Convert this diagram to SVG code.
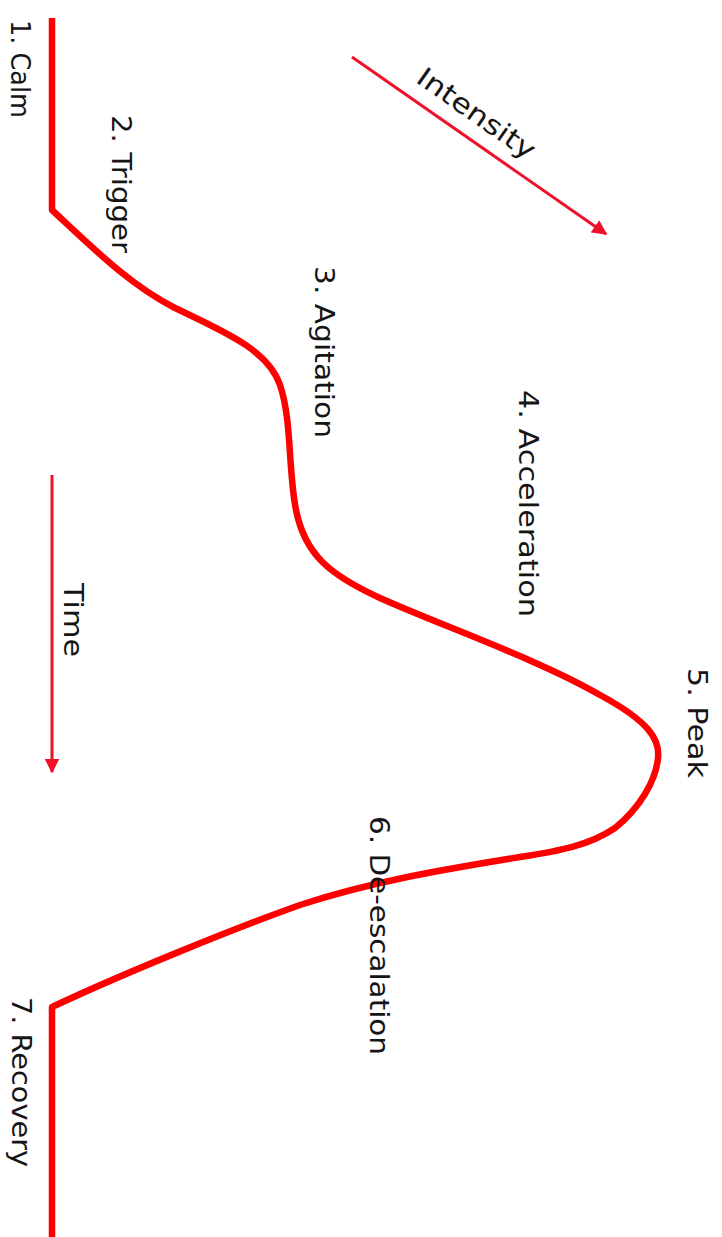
<svg xmlns="http://www.w3.org/2000/svg" width="722" height="1237" viewBox="0 0 722 1237">
<style>
.lbl{font-family:"DejaVu Sans","Liberation Sans",sans-serif;font-size:27px;fill:#151515}
.curve{fill:none;stroke:#ff0000;stroke-width:6.5;stroke-linejoin:round}
.axis{fill:none;stroke:#f0102a;stroke-width:3}
</style>
<defs>
<marker id="ah" viewBox="0 0 10 10" refX="9" refY="5" markerWidth="5" markerHeight="5" orient="auto" markerUnits="strokeWidth">
<path d="M0,0 L10,5 L0,10 z" fill="#f0102a"/>
</marker>
</defs>
<rect width="722" height="1237" fill="#ffffff"/>
<g id="connectors">
<path id="curve" class="curve" d="M52,18 L52,210 C95,250 130,285 175,308 C225,332 268,350 280,385 C292,420 288,470 296,510 C305,555 330,575 380,598 C440,625 540,660 600,695 C650,722 660,740 658,758 C656,780 640,808 615,828 C590,845 560,851 520,857 C440,870 370,882 300,905 C230,930 120,975 52,1007 L52,1237"/>
<line id="intensity-arrow" class="axis" x1="352" y1="57" x2="606" y2="234" marker-end="url(#ah)"/>
<line id="time-arrow" class="axis" x1="52" y1="475" x2="52" y2="772" marker-end="url(#ah)"/>
</g>
<g id="n1"><text class="lbl" transform="translate(11,20) rotate(90)" textLength="98" lengthAdjust="spacingAndGlyphs">1. Calm</text></g>
<g id="n2"><text class="lbl" transform="translate(112,115) rotate(90)" textLength="138" lengthAdjust="spacingAndGlyphs">2. Trigger</text></g>
<g id="n3"><text class="lbl" transform="translate(315,266) rotate(90)" textLength="172" lengthAdjust="spacingAndGlyphs">3. Agitation</text></g>
<g id="n4"><text class="lbl" transform="translate(519,390) rotate(90)" textLength="227" lengthAdjust="spacingAndGlyphs">4. Acceleration</text></g>
<g id="n5"><text class="lbl" transform="translate(688,668) rotate(90)" textLength="110" lengthAdjust="spacingAndGlyphs">5. Peak</text></g>
<g id="n6"><text class="lbl" transform="translate(370,816) rotate(90)" textLength="239" lengthAdjust="spacingAndGlyphs">6. De-escalation</text></g>
<g id="n7"><text class="lbl" transform="translate(12,997) rotate(90)" textLength="170" lengthAdjust="spacingAndGlyphs">7. Recovery</text></g>
<g id="time"><text class="lbl" transform="translate(64,583) rotate(90)" textLength="74" lengthAdjust="spacingAndGlyphs">Time</text></g>
<g id="intensity"><text class="lbl" transform="translate(471,121) rotate(35)" text-anchor="middle" textLength="138" lengthAdjust="spacingAndGlyphs">Intensity</text></g>
</svg>
